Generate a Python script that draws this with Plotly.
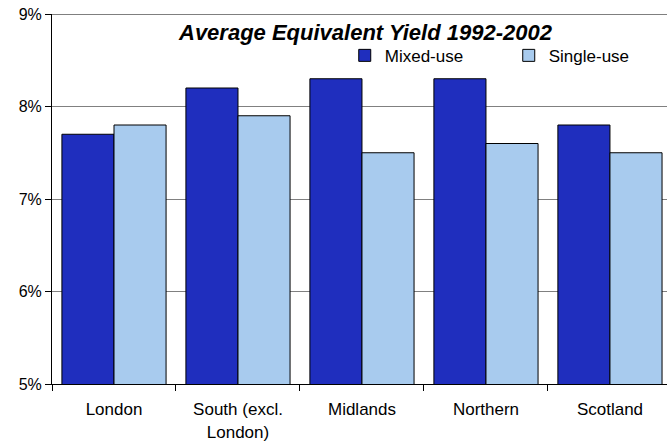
import plotly.graph_objects as go

regions = ["London", "South (excl.<br>London)", "Midlands", "Northern", "Scotland"]
mixed_use = [7.7, 8.2, 8.3, 8.3, 7.8]
single_use = [7.8, 7.9, 7.5, 7.6, 7.5]
y_ticks = [5, 6, 7, 8, 9]
y_tick_labels = ["5%", "6%", "7%", "8%", "9%"]

FONT = "Liberation Sans, Arial, sans-serif"

fig = go.Figure()
fig.add_trace(go.Bar(
    name="Mixed-use", x=regions, y=mixed_use,
    marker=dict(color="#1F2EBE", line=dict(color="#000000", width=1)),
))
fig.add_trace(go.Bar(
    name="Single-use", x=regions, y=single_use,
    marker=dict(color="#A8CBEE", line=dict(color="#000000", width=1)),
))

fig.update_layout(
    width=667, height=442,
    margin=dict(l=52, r=0, t=14, b=58, autoexpand=False),
    paper_bgcolor="white", plot_bgcolor="white",
    barmode="group", bargap=0.16, bargroupgap=0,
    font=dict(family=FONT, size=17, color="#000000"),
    showlegend=True,
    legend=dict(
        orientation="h", x=0.476, y=0.887, xanchor="left", yanchor="middle",
        bgcolor="rgba(0,0,0,0)", font=dict(size=17),
        itemwidth=30, tracegroupgap=0,
        entrywidth=119, entrywidthmode="pixels",
    ),
    xaxis=dict(
        range=[-0.5, 4.46], showgrid=False,
        showline=True, linecolor="#000000", linewidth=1,
        ticks="outside", tickson="boundaries", ticklen=6, tickcolor="#000000",
        tickfont=dict(size=17), ticklabelstandoff=10,
    ),
    yaxis=dict(
        range=[5, 9], tickvals=y_ticks, ticktext=y_tick_labels,
        showgrid=True, gridcolor="#808080", gridwidth=1,
        showline=True, linecolor="#000000", linewidth=1,
        ticks="outside", ticklen=6, tickcolor="#000000",
        tickfont=dict(size=16), zeroline=False,
    ),
    shapes=[dict(type="line", xref="paper", yref="y", x0=0, x1=1, y0=9, y1=9,
                 line=dict(color="#000000", width=1))],
    annotations=[dict(
        text="<b><i>Average Equivalent Yield 1992-2002</i></b>",
        xref="paper", yref="paper", x=0.51, y=0.949,
        xanchor="center", yanchor="middle", showarrow=False,
        font=dict(size=22, family=FONT),
    )],
)

fig.write_html("out.html")
